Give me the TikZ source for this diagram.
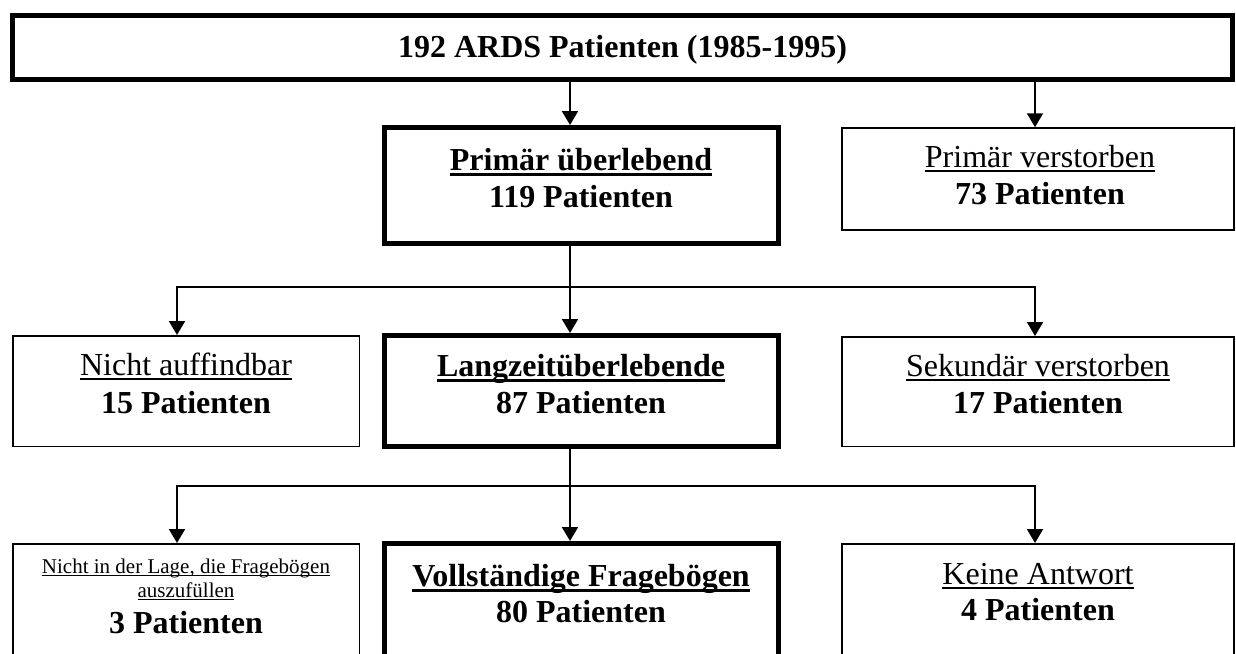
\documentclass[tikz,border=0pt]{standalone}
\usepackage{fontspec}
\setmainfont{Liberation Serif}
\usetikzlibrary{arrows.meta}
\newlength\ulwd
% #1 = position of rule bottom below baseline, #2 = rule thickness, #3 = text
\newcommand{\ulx}[3]{\settowidth{\ulwd}{#3}\rlap{\rule[-#1]{\ulwd}{#2}}#3}
\newcommand{\ulb}[1]{\ulx{3.2pt}{1.7pt}{#1}}
\newcommand{\ulr}[1]{\ulx{2.45pt}{1.05pt}{#1}}
\newcommand{\uls}[1]{\ulx{1.6pt}{0.7pt}{#1}}
\begin{document}
\begin{tikzpicture}[x=0.5pt,y=-0.5pt,
  box/.style={draw, line width=0.75pt, inner sep=0pt},
  bbox/.style={draw, line width=2.5pt, inner sep=0pt},
  tr/.style={anchor=base, inner sep=0pt, font=\fontsize{16}{18}\selectfont},
  tb/.style={anchor=base, inner sep=0pt, font=\fontsize{16}{18}\selectfont\bfseries},
  ts/.style={anchor=base, inner sep=0pt, font=\fontsize{10.5}{12}\selectfont},
  ln/.style={line width=1pt},
  arr/.style={line width=1pt, -{Triangle[width=8pt,length=7pt]}}]
\useasboundingbox (0,0) rectangle (1236,653);
\fill[white] (0,0) rectangle (1236,653);
\clip (0,0) rectangle (1236,653);

% boxes
\node[bbox, minimum width=610pt, minimum height=32pt] (T) at (622.5,47.5) {};
\node[bbox, minimum width=197pt, minimum height=58pt] (P1) at (581.5,185.5) {};
\node[box, minimum width=196pt, minimum height=51pt] (P2) at (1038,179) {};
\node[box, minimum width=173.25pt, minimum height=55.25pt] (L2) at (186,391) {};
\node[bbox, minimum width=197pt, minimum height=55.5pt] (M2) at (581.5,391) {};
\node[box, minimum width=196pt, minimum height=54.75pt] (R2) at (1038,391.5) {};
\node[box, minimum width=173.25pt, minimum height=100pt] (L3) at (186,643.75) {};
\node[bbox, minimum width=197pt, minimum height=100pt] (M3) at (581.5,643.5) {};
\node[box, minimum width=196pt, minimum height=100pt] (R3) at (1038,643.75) {};

% texts
\node[tb] (tT) at (622.5,57) {192 ARDS Patienten (1985-1995)};
\node[tb] (tP1a) at (581,170) {\ulb{Primär überlebend}};
\node[tb] (tP1b) at (581,207) {119 Patienten};
\node[tr] (tP2a) at (1040,167) {\ulr{Primär verstorben}};
\node[tb] (tP2b) at (1040,204) {73 Patienten};
\node[tr] (tL2a) at (186,375) {\ulr{Nicht auffindbar}};
\node[tb] (tL2b) at (186,413) {15 Patienten};
\node[tb] (tM2a) at (581,376) {\ulb{Langzeitüberlebende}};
\node[tb] (tM2b) at (581,413) {87 Patienten};
\node[tr] (tR2a) at (1038,376) {\ulr{Sekundär verstorben}};
\node[tb] (tR2b) at (1038,413) {17 Patienten};
\node[ts] (tL3a) at (186,573) {\uls{Nicht in der Lage, die Fragebögen}};
\node[ts] (tL3b) at (186,597) {\uls{auszufüllen}};
\node[tb] (tL3c) at (186,633) {3 Patienten};
\node[tb] (tM3a) at (581,586) {\ulb{Vollständige Fragebögen}};
\node[tb] (tM3b) at (581,622) {80 Patienten};
\node[tr] (tR3a) at (1038,584) {\ulr{Keine Antwort}};
\node[tb] (tR3b) at (1038,620) {4 Patienten};

% connector columns
\coordinate (xm) at (570,0);
\coordinate (xl) at (177,0);
\coordinate (xr) at (1035,0);
\coordinate (b1) at (570,287);
\coordinate (b2) at (570,486);

\draw[arr] (T.south -| xm) -- (P1.north -| xm);
\draw[arr] (T.south -| xr) -- (P2.north -| xr);

\draw[ln] (P1.south -| xm) -- (b1);
\draw[arr] (b1) -- (M2.north -| xm);
\draw[arr] (b1) -| (L2.north -| xl);
\draw[arr] (b1) -| (R2.north -| xr);

\draw[ln] (M2.south -| xm) -- (b2);
\draw[arr] (b2) -- (M3.north -| xm);
\draw[arr] (b2) -| (L3.north -| xl);
\draw[arr] (b2) -| (R3.north -| xr);
\end{tikzpicture}
\end{document}
